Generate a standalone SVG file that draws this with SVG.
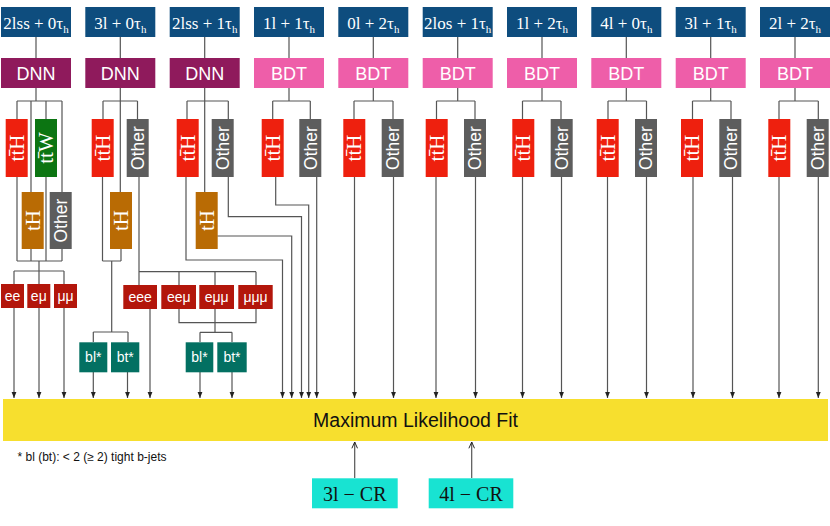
<svg xmlns="http://www.w3.org/2000/svg" width="830" height="526" viewBox="0 0 830 526">
<defs>
<style>
.c{fill:none;stroke:#555;stroke-width:1.2}
.a{marker-end:url(#ah)}
.u{marker-end:url(#uh)}
.top{fill:#0e4d7e}
.dnn{fill:#8f1a5c}
.bdt{fill:#ee5ea9}
.tth{fill:#ee200e}
.ttw{fill:#0c7512}
.oth{fill:#5d5d5d}
.th{fill:#b96b04}
.lep{fill:#b3160b}
.bb{fill:#037062}
.ml{fill:#f7df2e}
.cr{fill:#18e3d2}
.tl{font-family:"Liberation Serif","Times New Roman",serif;font-size:17px;fill:#fff;text-anchor:middle}
.sub{font-size:11px}
.mv{font-family:"Liberation Sans",Arial,sans-serif;font-size:18px;fill:#fff;text-anchor:middle}
.vs{font-family:"Liberation Serif","Times New Roman",serif;font-size:21px;fill:#fff;text-anchor:middle}
.vo{font-family:"Liberation Sans",Arial,sans-serif;font-size:17.5px;fill:#fff;text-anchor:middle}
.lt{font-family:"Liberation Sans",Arial,sans-serif;font-size:14px;fill:#fff;text-anchor:middle}
.big{font-family:"Liberation Sans",Arial,sans-serif;font-size:19.5px;fill:#111;text-anchor:middle}
.crt{font-family:"Liberation Serif","Times New Roman",serif;font-size:20px;fill:#111;text-anchor:middle}
.fn{font-family:"Liberation Sans",Arial,sans-serif;font-size:12px;fill:#111}
</style>
<marker id="ah" viewBox="0 0 10 10" refX="10" refY="5" markerUnits="userSpaceOnUse" markerWidth="6" markerHeight="6" orient="auto"><path d="M0,1 L10,5 L0,9 z" fill="#222"/></marker>
<marker id="uh" viewBox="0 0 10 10" refX="10" refY="5" markerUnits="userSpaceOnUse" markerWidth="7" markerHeight="7" orient="auto"><path d="M1,1 L10,5 L1,9" fill="none" stroke="#222" stroke-width="1.4"/></marker>
</defs>
<rect width="830" height="526" fill="#fff"/>

<g id="connectors">
<path class="c" d="M36 37V58M120.3 37V58M204.7 37V58M289 37V58M373.3 37V58M457.7 37V58M542 37V58M626.3 37V58M710.7 37V58M795 37V58"/>
<path class="c" d="M36 88V101M17 101H62M17 101V119M31 101V192M46 101V119M62 101V192"/>
<path class="c" d="M17 177V261M31 249V261M46 177V261M62 249V261M17 261H62M39 261V271M14 271H64M14 271V284M39 271V284M64 271V284"/>
<path class="c a" d="M14 308V398"/><path class="c a" d="M39 308V398"/><path class="c a" d="M64 308V398"/>
<path class="c" d="M120.3 88V192M103 101H137.5M103 101V119M137.5 101V119"/>
<path class="c" d="M102.5 177V261M121 249V261M102.5 261H121M111.7 261V332M93.3 332H128M93.3 332V342M128 332V342"/>
<path class="c a" d="M93.3 372V398"/><path class="c a" d="M127.5 372V398"/>
<path class="c" d="M139 177V271.7M139 271.7H256M139 271.7V285M179 271.7V285M215 271.7V285M256 271.7V285"/>
<path class="c a" d="M150 309V398"/>
<path class="c" d="M179 309V322.7H256V309M215 309V332.3M200 332.3H232M200 332.3V342M232 332.3V342"/>
<path class="c a" d="M200 372V398"/><path class="c a" d="M232 372V398"/>
<path class="c" d="M204.7 88V192M187 101H228.3M187 101V119M228.3 101V119"/>
<path class="c a" d="M186 177V260H282.5V398"/>
<path class="c a" d="M217.3 236H291.7V398"/>
<path class="c a" d="M228.3 177V216.7H301.5V398"/>
<path class="c" d="M289 88V101M272.7 101H310.3M272.7 101V119M310.3 101V119"/>
<path class="c a" d="M275.7 177V205H308.7V398"/>
<path class="c a" d="M316.7 177V398"/>
<path class="c" d="M373.3 88V101M354 101H393M354 101V119M393 101V119"/>
<path class="c a" d="M354.5 177V398"/><path class="c a" d="M393.5 177V398"/>
<path class="c" d="M457.7 88V101M436.5 101H475M436.5 101V119M475 101V119"/>
<path class="c a" d="M436 177V398"/><path class="c a" d="M475.5 177V398"/>
<path class="c" d="M542 88V101M522.5 101H561M522.5 101V119M561 101V119"/>
<path class="c a" d="M522.5 177V398"/><path class="c a" d="M561.5 177V398"/>
<path class="c" d="M626.3 88V101M608 101H646.5M608 101V119M646.5 101V119"/>
<path class="c a" d="M607.5 177V398"/><path class="c a" d="M646.5 177V398"/>
<path class="c" d="M710.7 88V101M692.5 101H731M692.5 101V119M731 101V119"/>
<path class="c a" d="M693 177V398"/><path class="c a" d="M732.5 177V398"/>
<path class="c" d="M795 88V101M779 101H818.3M779 101V119M818.3 101V119"/>
<path class="c a" d="M779 177V398"/><path class="c a" d="M818.3 177V398"/>
<path class="c u" d="M354.7 478V442"/>
<path class="c u" d="M471.7 478V442"/>
</g>

<g id="cat1"><rect class="top" x="1" y="7" width="70" height="30"/><text class="tl" x="36" y="29">2lss + 0τ<tspan class="sub" dy="3.5">h</tspan></text></g>
<g id="cat2"><rect class="top" x="85.3" y="7" width="70" height="30"/><text class="tl" x="120.3" y="29">3l + 0τ<tspan class="sub" dy="3.5">h</tspan></text></g>
<g id="cat3"><rect class="top" x="169.7" y="7" width="70" height="30"/><text class="tl" x="204.7" y="29">2lss + 1τ<tspan class="sub" dy="3.5">h</tspan></text></g>
<g id="cat4"><rect class="top" x="254" y="7" width="70" height="30"/><text class="tl" x="289" y="29">1l + 1τ<tspan class="sub" dy="3.5">h</tspan></text></g>
<g id="cat5"><rect class="top" x="338.3" y="7" width="70" height="30"/><text class="tl" x="373.3" y="29">0l + 2τ<tspan class="sub" dy="3.5">h</tspan></text></g>
<g id="cat6"><rect class="top" x="422.7" y="7" width="70" height="30"/><text class="tl" x="457.7" y="29">2los + 1τ<tspan class="sub" dy="3.5">h</tspan></text></g>
<g id="cat7"><rect class="top" x="507" y="7" width="70" height="30"/><text class="tl" x="542" y="29">1l + 2τ<tspan class="sub" dy="3.5">h</tspan></text></g>
<g id="cat8"><rect class="top" x="591.3" y="7" width="70" height="30"/><text class="tl" x="626.3" y="29">4l + 0τ<tspan class="sub" dy="3.5">h</tspan></text></g>
<g id="cat9"><rect class="top" x="675.7" y="7" width="70" height="30"/><text class="tl" x="710.7" y="29">3l + 1τ<tspan class="sub" dy="3.5">h</tspan></text></g>
<g id="cat10"><rect class="top" x="760" y="7" width="70" height="30"/><text class="tl" x="795" y="29">2l + 2τ<tspan class="sub" dy="3.5">h</tspan></text></g>

<g id="mva1"><rect class="dnn" x="1" y="58" width="70" height="30"/><text class="mv" x="36" y="80">DNN</text></g>
<g id="mva2"><rect class="dnn" x="85.3" y="58" width="70" height="30"/><text class="mv" x="120.3" y="80">DNN</text></g>
<g id="mva3"><rect class="dnn" x="169.7" y="58" width="70" height="30"/><text class="mv" x="204.7" y="80">DNN</text></g>
<g id="mva4"><rect class="bdt" x="254" y="58" width="70" height="30"/><text class="mv" x="289" y="80">BDT</text></g>
<g id="mva5"><rect class="bdt" x="338.3" y="58" width="70" height="30"/><text class="mv" x="373.3" y="80">BDT</text></g>
<g id="mva6"><rect class="bdt" x="422.7" y="58" width="70" height="30"/><text class="mv" x="457.7" y="80">BDT</text></g>
<g id="mva7"><rect class="bdt" x="507" y="58" width="70" height="30"/><text class="mv" x="542" y="80">BDT</text></g>
<g id="mva8"><rect class="bdt" x="591.3" y="58" width="70" height="30"/><text class="mv" x="626.3" y="80">BDT</text></g>
<g id="mva9"><rect class="bdt" x="675.7" y="58" width="70" height="30"/><text class="mv" x="710.7" y="80">BDT</text></g>
<g id="mva10"><rect class="bdt" x="760" y="58" width="70" height="30"/><text class="mv" x="795" y="80">BDT</text></g>

<g id="c1-tth"><rect class="tth" x="5.7" y="119" width="22" height="58"/><text class="vs" transform="translate(16.7,148) rotate(-90)" y="7">tt̄H</text></g>
<g id="c1-ttw"><rect class="ttw" x="35" y="119" width="22" height="58"/><text class="vs" transform="translate(46,148) rotate(-90)" y="7">tt̄W</text></g>
<g id="c1-th"><rect class="th" x="21.7" y="192" width="22" height="57"/><text class="vs" transform="translate(32.7,220.5) rotate(-90)" y="7">tH</text></g>
<g id="c1-oth"><rect class="oth" x="49.7" y="192" width="22" height="57"/><text class="vo" transform="translate(60.7,220.5) rotate(-90)" y="6.3">Other</text></g>
<g id="c1-ee"><rect class="lep" x="1" y="284" width="23" height="24"/><text class="lt" x="12.5" y="301">ee</text></g>
<g id="c1-em"><rect class="lep" x="27.3" y="284" width="23" height="24"/><text class="lt" x="38.8" y="301">eμ</text></g>
<g id="c1-mm"><rect class="lep" x="54" y="284" width="23" height="24"/><text class="lt" x="65.5" y="301">μμ</text></g>

<g id="c2-tth"><rect class="tth" x="91.7" y="119" width="22" height="58"/><text class="vs" transform="translate(102.7,148) rotate(-90)" y="7">tt̄H</text></g>
<g id="c2-oth"><rect class="oth" x="126.7" y="119" width="22" height="58"/><text class="vo" transform="translate(137.7,148) rotate(-90)" y="6.3">Other</text></g>
<g id="c2-th"><rect class="th" x="110" y="192" width="22" height="57"/><text class="vs" transform="translate(121,220.5) rotate(-90)" y="7">tH</text></g>
<g id="c2-bl"><rect class="bb" x="79.3" y="342.3" width="28" height="30"/><text class="lt" x="93.3" y="362">bl*</text></g>
<g id="c2-bt"><rect class="bb" x="111" y="342.3" width="28.3" height="30"/><text class="lt" x="125.2" y="362">bt*</text></g>
<g id="c2-eee"><rect class="lep" x="123.3" y="285" width="33.7" height="24"/><text class="lt" x="140.2" y="302">eee</text></g>
<g id="c2-eem"><rect class="lep" x="161.3" y="285" width="34.7" height="24"/><text class="lt" x="178.7" y="302">eeμ</text></g>
<g id="c2-emm"><rect class="lep" x="199.3" y="285" width="34.7" height="24"/><text class="lt" x="216.7" y="302">eμμ</text></g>
<g id="c2-mmm"><rect class="lep" x="238.3" y="285" width="34.4" height="24"/><text class="lt" x="255.5" y="302">μμμ</text></g>
<g id="c2-bl2"><rect class="bb" x="185.7" y="342.3" width="27.6" height="30"/><text class="lt" x="199.5" y="362">bl*</text></g>
<g id="c2-bt2"><rect class="bb" x="217.3" y="342.3" width="29.4" height="30"/><text class="lt" x="232" y="362">bt*</text></g>

<g id="c3-tth"><rect class="tth" x="176.7" y="119" width="22" height="58"/><text class="vs" transform="translate(187.7,148) rotate(-90)" y="7">tt̄H</text></g>
<g id="c3-oth"><rect class="oth" x="211.7" y="119" width="22" height="58"/><text class="vo" transform="translate(222.7,148) rotate(-90)" y="6.3">Other</text></g>
<g id="c3-th"><rect class="th" x="195.7" y="192" width="22" height="57"/><text class="vs" transform="translate(206.7,220.5) rotate(-90)" y="7">tH</text></g>

<g id="c4-tth"><rect class="tth" x="261.7" y="119" width="22" height="58"/><text class="vs" transform="translate(272.7,148) rotate(-90)" y="7">tt̄H</text></g>
<g id="c4-oth"><rect class="oth" x="299.3" y="119" width="22" height="58"/><text class="vo" transform="translate(310.3,148) rotate(-90)" y="6.3">Other</text></g>
<g id="c5-tth"><rect class="tth" x="343.3" y="119" width="22" height="58"/><text class="vs" transform="translate(354.3,148) rotate(-90)" y="7">tt̄H</text></g>
<g id="c5-oth"><rect class="oth" x="381.7" y="119" width="22" height="58"/><text class="vo" transform="translate(392.7,148) rotate(-90)" y="6.3">Other</text></g>
<g id="c6-tth"><rect class="tth" x="425.7" y="119" width="22" height="58"/><text class="vs" transform="translate(436.7,148) rotate(-90)" y="7">tt̄H</text></g>
<g id="c6-oth"><rect class="oth" x="464" y="119" width="22" height="58"/><text class="vo" transform="translate(475,148) rotate(-90)" y="6.3">Other</text></g>
<g id="c7-tth"><rect class="tth" x="512.3" y="119" width="22" height="58"/><text class="vs" transform="translate(523.3,148) rotate(-90)" y="7">tt̄H</text></g>
<g id="c7-oth"><rect class="oth" x="550.7" y="119" width="22" height="58"/><text class="vo" transform="translate(561.7,148) rotate(-90)" y="6.3">Other</text></g>
<g id="c8-tth"><rect class="tth" x="596.7" y="119" width="22" height="58"/><text class="vs" transform="translate(607.7,148) rotate(-90)" y="7">tt̄H</text></g>
<g id="c8-oth"><rect class="oth" x="635" y="119" width="22" height="58"/><text class="vo" transform="translate(646,148) rotate(-90)" y="6.3">Other</text></g>
<g id="c9-tth"><rect class="tth" x="681" y="119" width="22" height="58"/><text class="vs" transform="translate(692,148) rotate(-90)" y="7">tt̄H</text></g>
<g id="c9-oth"><rect class="oth" x="719.3" y="119" width="22" height="58"/><text class="vo" transform="translate(730.3,148) rotate(-90)" y="6.3">Other</text></g>
<g id="c10-tth"><rect class="tth" x="768.3" y="119" width="22" height="58"/><text class="vs" transform="translate(779.3,148) rotate(-90)" y="7">tt̄H</text></g>
<g id="c10-oth"><rect class="oth" x="806.7" y="119" width="22" height="58"/><text class="vo" transform="translate(817.7,148) rotate(-90)" y="6.3">Other</text></g>

<g id="fit"><rect class="ml" x="3" y="399" width="825" height="42"/><text class="big" x="415.5" y="427">Maximum Likelihood Fit</text></g>
<g id="note"><text class="fn" x="17.5" y="461">* bl (bt): &lt; 2 (≥ 2) tight b-jets</text></g>
<g id="cr3"><rect class="cr" x="312" y="478.3" width="85.7" height="30"/><text class="crt" x="354.8" y="500.5">3l − CR</text></g>
<g id="cr4"><rect class="cr" x="428.7" y="478.3" width="84.6" height="30"/><text class="crt" x="471" y="500.5">4l − CR</text></g>
</svg>
